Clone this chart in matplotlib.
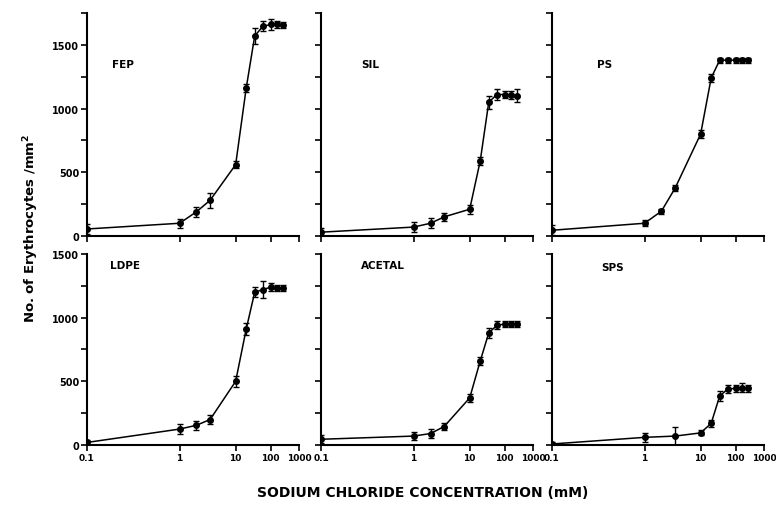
import numpy as np
import matplotlib
matplotlib.use("Agg")
import matplotlib.pyplot as plt
import matplotlib.ticker as mticker

plt.rcParams["font.family"] = ["DejaVu Sans"]
plt.rcParams["font.weight"] = "bold"

# NaCl concentrations (mM) used for the measurements
conc = [0.1, 1, 2, 3.5, 10, 20, 35, 60, 100, 170, 260]
conc_sps = [0.1, 1, 3.5, 10, 20, 35, 60, 100, 170, 260]

fep = [55, 100, 190, 280, 560, 1160, 1570, 1645, 1660, 1660, 1655]
fep_err = [40, 35, 40, 60, 30, 30, 65, 40, 40, 30, 25]
sil = [30, 70, 100, 150, 210, 590, 1050, 1110, 1110, 1105, 1100]
sil_err = [30, 40, 40, 30, 35, 30, 50, 40, 30, 30, 50]
ps = [45, 100, 195, 375, 800, 1240, 1380, 1380, 1380, 1380, 1380]
ps_err = [40, 25, 20, 25, 30, 30, 20, 20, 20, 20, 20]
ldpe = [20, 125, 155, 200, 500, 910, 1200, 1220, 1240, 1235, 1235]
ldpe_err = [20, 40, 35, 35, 45, 50, 40, 65, 30, 25, 25]
acetal = [45, 70, 90, 145, 370, 660, 880, 940, 950, 950, 950]
acetal_err = [30, 30, 35, 30, 30, 30, 40, 30, 20, 20, 20]
sps = [8, 60, 70, 95, 170, 385, 440, 445, 450, 445]
sps_err = [15, 35, 70, 20, 30, 40, 30, 25, 35, 25]

panel_names = ["FEP", "SIL", "PS", "LDPE", "ACETAL", "SPS"]
xtick_vals = [0.1, 1, 10, 100, 1000]
xtick_labels = ["0.1", "1", "10", "100", "1000"]

# the original x axis is not a true log axis: decades get narrower to the right
dec_u = [-1, 0, 1, 2, 3]
dec_pos = [0, 92.5, 148.5, 183.5, 212]


def fwd(x):
    x = np.clip(np.asarray(x, dtype=float), 1e-6, None)
    return np.interp(np.log10(x), dec_u, dec_pos)


def inv(p):
    return 10 ** np.interp(np.asarray(p, dtype=float), dec_pos, dec_u)


fig = plt.figure(figsize=(7.76, 5.10), dpi=100)

col_left = [0.1121, 0.4137, 0.7113]
col_w = 0.2735
rows = [(0.5353, 0.4373, 1750), (0.1255, 0.3745, 1500)]

series = [
    (conc, fep, fep_err), (conc, sil, sil_err), (conc, ps, ps_err),
    (conc, ldpe, ldpe_err), (conc, acetal, acetal_err), (conc_sps, sps, sps_err),
]
label_pos = [(0.12, 0.77), (0.19, 0.77), (0.21, 0.77),
             (0.11, 0.94), (0.19, 0.94), (0.23, 0.93)]

for i, (xs, ys, es) in enumerate(series):
    r, c = divmod(i, 3)
    bottom, height, ymax = rows[r]
    ax = fig.add_axes([col_left[c], bottom, col_w, height])
    ax.set_xscale("function", functions=(fwd, inv))
    ax.set_xlim(0.1, 1000)
    ax.set_ylim(0, ymax)

    ax.errorbar(xs, ys, yerr=es, fmt="o", color="black", ms=4,
                elinewidth=1.0, capsize=2.5, capthick=1.0, zorder=3)
    ax.plot(xs, ys, color="black", lw=1.1, zorder=2)

    for s in ["top", "right"]:
        ax.spines[s].set_visible(False)
    for s in ["left", "bottom"]:
        ax.spines[s].set_linewidth(1.5)

    ax.xaxis.set_major_locator(mticker.FixedLocator(xtick_vals))
    ax.xaxis.set_minor_locator(mticker.NullLocator())
    ax.yaxis.set_major_locator(mticker.MultipleLocator(250))
    ax.yaxis.set_minor_locator(mticker.NullLocator())
    ax.tick_params(axis="both", direction="out", length=4, width=1.2, pad=1.5)
    ax.tick_params(axis="y", labelsize=7)
    ax.tick_params(axis="x", labelsize=6.5)

    if r == 1:
        ax.set_xticklabels(xtick_labels, fontweight="bold")
    else:
        ax.set_xticklabels([])
    if c == 0:
        ax.yaxis.set_major_formatter(mticker.FuncFormatter(
            lambda v, pos: f"{int(v)}" if v % 500 == 0 else ""))
    else:
        ax.set_yticklabels([])

    lx, ly = label_pos[i]
    ax.text(lx, ly, panel_names[i], transform=ax.transAxes, fontsize=7.5,
            fontweight="bold", ha="left", va="center")

fig.text(0.04, 0.553, "No. of Erythrocytes /mm$^\\mathbf{2}$", rotation=90,
         ha="center", va="center", fontsize=9.5, fontweight="bold")
fig.text(0.545, 0.033, "SODIUM CHLORIDE CONCENTRATION (mM)", ha="center",
         va="center", fontsize=10, fontweight="bold")

fig.savefig("out.png", dpi=100)
